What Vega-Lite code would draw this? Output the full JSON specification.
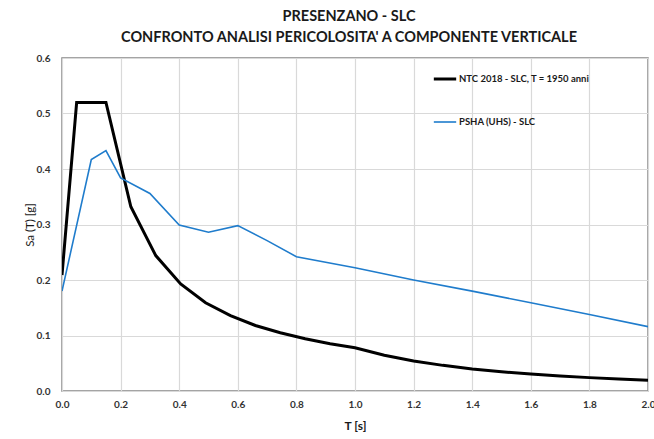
{
  "$schema": "https://vega.github.io/schema/vega-lite/v6.json",
  "width": 586,
  "height": 333,
  "autosize": {"type": "none"},
  "padding": {"left": 62, "top": 58, "right": 6, "bottom": 48},
  "background": "white",
  "title": {
    "text": ["PRESENZANO - SLC", "CONFRONTO ANALISI PERICOLOSITA' A COMPONENTE VERTICALE"],
    "font": "Lato",
    "fontSize": 14.5,
    "fontWeight": "bold",
    "color": "#1a1a1a",
    "lineHeight": 21,
    "anchor": "middle",
    "dx": -6,
    "offset": 8
  },
  "config": {
    "view": {"stroke": "#868686", "strokeWidth": 1.5},
    "font": "Lato"
  },
  "data": {
    "values": [
      {"series": "NTC 2018 - SLC, T = 1950 anni", "T": 0.0, "Sa": 0.209},
      {"series": "NTC 2018 - SLC, T = 1950 anni", "T": 0.05, "Sa": 0.52},
      {"series": "NTC 2018 - SLC, T = 1950 anni", "T": 0.15, "Sa": 0.52},
      {"series": "NTC 2018 - SLC, T = 1950 anni", "T": 0.235, "Sa": 0.332},
      {"series": "NTC 2018 - SLC, T = 1950 anni", "T": 0.32, "Sa": 0.244},
      {"series": "NTC 2018 - SLC, T = 1950 anni", "T": 0.405, "Sa": 0.193},
      {"series": "NTC 2018 - SLC, T = 1950 anni", "T": 0.49, "Sa": 0.159},
      {"series": "NTC 2018 - SLC, T = 1950 anni", "T": 0.575, "Sa": 0.136},
      {"series": "NTC 2018 - SLC, T = 1950 anni", "T": 0.66, "Sa": 0.118},
      {"series": "NTC 2018 - SLC, T = 1950 anni", "T": 0.745, "Sa": 0.105},
      {"series": "NTC 2018 - SLC, T = 1950 anni", "T": 0.83, "Sa": 0.094},
      {"series": "NTC 2018 - SLC, T = 1950 anni", "T": 0.915, "Sa": 0.085},
      {"series": "NTC 2018 - SLC, T = 1950 anni", "T": 1.0, "Sa": 0.078},
      {"series": "NTC 2018 - SLC, T = 1950 anni", "T": 1.1, "Sa": 0.0645},
      {"series": "NTC 2018 - SLC, T = 1950 anni", "T": 1.2, "Sa": 0.0542},
      {"series": "NTC 2018 - SLC, T = 1950 anni", "T": 1.3, "Sa": 0.0462},
      {"series": "NTC 2018 - SLC, T = 1950 anni", "T": 1.4, "Sa": 0.0398},
      {"series": "NTC 2018 - SLC, T = 1950 anni", "T": 1.5, "Sa": 0.0347},
      {"series": "NTC 2018 - SLC, T = 1950 anni", "T": 1.6, "Sa": 0.0305},
      {"series": "NTC 2018 - SLC, T = 1950 anni", "T": 1.7, "Sa": 0.027},
      {"series": "NTC 2018 - SLC, T = 1950 anni", "T": 1.8, "Sa": 0.0241},
      {"series": "NTC 2018 - SLC, T = 1950 anni", "T": 1.9, "Sa": 0.0216},
      {"series": "NTC 2018 - SLC, T = 1950 anni", "T": 2.0, "Sa": 0.0195},
      {"series": "PSHA (UHS) - SLC", "T": 0.0, "Sa": 0.18},
      {"series": "PSHA (UHS) - SLC", "T": 0.1, "Sa": 0.417},
      {"series": "PSHA (UHS) - SLC", "T": 0.15, "Sa": 0.433},
      {"series": "PSHA (UHS) - SLC", "T": 0.2, "Sa": 0.384},
      {"series": "PSHA (UHS) - SLC", "T": 0.3, "Sa": 0.356},
      {"series": "PSHA (UHS) - SLC", "T": 0.4, "Sa": 0.299},
      {"series": "PSHA (UHS) - SLC", "T": 0.5, "Sa": 0.286},
      {"series": "PSHA (UHS) - SLC", "T": 0.6, "Sa": 0.298},
      {"series": "PSHA (UHS) - SLC", "T": 0.7, "Sa": 0.271},
      {"series": "PSHA (UHS) - SLC", "T": 0.8, "Sa": 0.242},
      {"series": "PSHA (UHS) - SLC", "T": 1.0, "Sa": 0.222},
      {"series": "PSHA (UHS) - SLC", "T": 1.2, "Sa": 0.2},
      {"series": "PSHA (UHS) - SLC", "T": 1.4, "Sa": 0.18},
      {"series": "PSHA (UHS) - SLC", "T": 1.6, "Sa": 0.159},
      {"series": "PSHA (UHS) - SLC", "T": 1.8, "Sa": 0.138},
      {"series": "PSHA (UHS) - SLC", "T": 2.0, "Sa": 0.116}
    ]
  },
  "mark": {"type": "line", "strokeJoin": "miter", "clip": true},
  "encoding": {
    "x": {
      "field": "T",
      "type": "quantitative",
      "scale": {"domain": [0, 2], "nice": false, "zero": true},
      "axis": {
        "title": "T [s]",
        "titleFont": "Lato",
        "titleFontSize": 12,
        "titleFontWeight": "bold",
        "titleColor": "#1a1a1a",
        "titlePadding": 11,
        "values": [0, 0.2, 0.4, 0.6, 0.8, 1.0, 1.2, 1.4, 1.6, 1.8, 2.0],
        "format": ".1f",
        "labelFont": "Lato",
        "labelFontSize": 10,
        "labelFontWeight": "bold",
        "labelColor": "#333333",
        "labelPadding": 8,
        "labelFlush": false,
        "ticks": false,
        "domain": false,
        "grid": true,
        "gridColor": "#d9d9d9",
        "gridWidth": 1.2
      }
    },
    "y": {
      "field": "Sa",
      "type": "quantitative",
      "scale": {"domain": [0, 0.6], "nice": false},
      "axis": {
        "title": "Sa (T) [g]",
        "titleFont": "Lato",
        "titleFontSize": 11.5,
        "titleFontWeight": "normal",
        "titleColor": "#1a1a1a",
        "titlePadding": 1,
        "values": [0, 0.1, 0.2, 0.3, 0.4, 0.5, 0.6],
        "format": ".1f",
        "labelFont": "Lato",
        "labelFontSize": 10,
        "labelFontWeight": "bold",
        "labelColor": "#333333",
        "labelPadding": 12,
        "ticks": false,
        "domain": false,
        "grid": true,
        "gridColor": "#d9d9d9",
        "gridWidth": 1.2
      }
    },
    "color": {
      "field": "series",
      "type": "nominal",
      "scale": {
        "domain": ["NTC 2018 - SLC, T = 1950 anni", "PSHA (UHS) - SLC"],
        "range": ["#000000", "#1f7ccc"]
      },
      "legend": {
        "title": null,
        "orient": "none",
        "legendX": 370,
        "legendY": 8,
        "symbolType": "stroke",
        "symbolSize": 500,
        "symbolStrokeWidth": 2.5,
        "labelFont": "Lato",
        "labelFontSize": 9.5,
        "labelFontWeight": "bold",
        "labelColor": "#1a1a1a",
        "labelOffset": 1,
        "rowPadding": 25,
        "labelLimit": 300
      }
    },
    "strokeWidth": {
      "field": "series",
      "type": "nominal",
      "scale": {
        "domain": ["NTC 2018 - SLC, T = 1950 anni", "PSHA (UHS) - SLC"],
        "range": [3, 1.6]
      },
      "legend": null
    }
  }
}
